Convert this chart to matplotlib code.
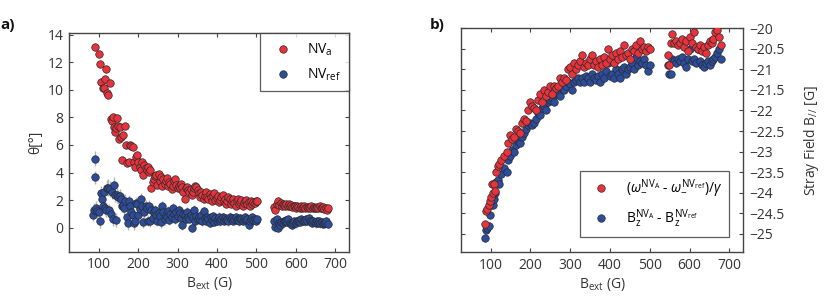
import matplotlib
matplotlib.use('Agg')
import matplotlib.pyplot as plt

plt.rcParams['font.family'] = ['Open Sans', 'DejaVu Sans']
plt.rcParams['mathtext.fontset'] = 'custom'
plt.rcParams['mathtext.rm'] = 'Open Sans'
plt.rcParams['mathtext.it'] = 'Open Sans:italic'
plt.rcParams['mathtext.sf'] = 'Open Sans'

# ---------------- data : panel a ----------------
bext_a = [92, 100, 103, 106, 110, 113, 116, 119, 122, 125, 128, 131, 133, 136, 139, 141, 144, 147, 149, 152,
          155, 158, 160, 162, 166, 169, 173, 176, 179, 183, 186, 189, 192, 195, 198, 201, 204, 207, 210, 213,
          216, 219, 222, 225, 228, 231, 234, 237, 240, 243, 246, 249, 252, 255, 258, 261, 264, 267, 270, 273,
          276, 279, 282, 285, 288, 291, 294, 297, 300, 303, 306, 309, 312, 315, 318, 321, 324, 327, 330, 333,
          336, 339, 342, 345, 348, 351, 354, 357, 360, 363, 366, 369, 372, 375, 378, 381, 384, 387, 390, 393,
          396, 399, 402, 405, 408, 411, 414, 417, 420, 423, 426, 429, 432, 435, 438, 441, 444, 447, 450, 453,
          456, 459, 462, 465, 468, 471, 474, 477, 480, 483, 486, 489, 492, 495, 498, 501,
          545, 548, 552, 555, 558, 561, 564, 567, 570, 573, 576, 579, 582, 585, 588, 591, 594, 597, 600, 603,
          606, 609, 612, 615, 618, 621, 624, 627, 630, 633, 636, 639, 642, 645, 648, 651, 654, 657, 660, 663,
          666, 669, 672, 675, 678, 680]
theta_a = [13.1, 12.6, 11.9, 10.6, 10.15, 10.15, 10.8, 11.5, 9.75, 9.65, 10.5, 7.9, 7.75, 8.05, 7.3, 6.95, 7.25, 7.95, 7.4, 6.4,
           7.3, 6.6, 4.9, 6.75, 7.35, 6.0, 4.7, 4.8, 6.0, 5.95, 5.85, 4.75, 4.4, 5.15, 5.25, 4.8, 4.4, 4.2, 4.75, 3.85,
           4.55, 4.35, 4.15, 4.4, 4.05, 4.2, 2.85, 3.3, 3.55, 3.75, 3.85, 3.1, 3.9, 3.4, 3.65, 3.05, 3.5, 3.2, 3.35, 3.6,
           3.0, 3.3, 3.2, 2.8, 3.05, 3.35, 3.5, 3.1, 2.85, 3.0, 2.85, 3.2, 2.95, 2.6, 2.05, 2.85, 2.95, 2.7, 2.55, 2.8,
           2.4, 2.6, 2.85, 3.05, 2.95, 2.7, 2.5, 2.2, 2.6, 2.4, 2.05, 2.3, 2.55, 2.25, 2.1, 2.45, 2.2, 1.95, 2.3, 2.5,
           2.0, 2.15, 2.3, 1.85, 2.0, 2.2, 2.35, 1.9, 2.1, 1.75, 1.95, 2.2, 2.05, 1.7, 1.9, 2.1, 1.8, 1.55, 1.95, 2.1,
           1.75, 1.85, 2.0, 1.6, 1.8, 1.95, 2.0, 1.7, 1.85, 1.6, 1.9, 1.75, 1.85, 1.8, 1.95, 1.9,
           1.5, 1.3, 1.75, 1.95, 1.65, 1.8, 1.6, 1.7, 1.65, 1.55, 1.7, 1.6, 1.75, 1.55, 1.65, 1.5, 1.6, 1.55, 1.45, 1.6,
           1.5, 1.45, 1.55, 1.4, 1.5, 1.6, 1.45, 1.5, 1.4, 1.5, 1.45, 1.55, 1.4, 1.5, 1.45, 1.4, 1.5, 1.45, 1.55, 1.4,
           1.45, 1.5, 1.35, 1.45, 1.25, 1.4]

bext_ref = [85, 88, 90, 92, 94, 97, 100, 103, 106, 108, 110, 113, 116, 119, 122, 125, 127, 130, 132, 135,
            137, 140, 142, 145, 147, 150, 153, 156, 159, 162, 165, 168, 171, 174, 177, 180, 183, 186, 189, 192,
            195, 198, 201, 204, 207, 210, 213, 216, 219, 222, 225, 228, 231, 234, 237, 240, 243, 246, 249, 252,
            255, 258, 261, 264, 267, 270, 273, 276, 279, 282, 285, 288, 291, 294, 297, 300, 303, 306, 309, 312,
            315, 318, 321, 324, 327, 330, 333, 336, 339, 342, 345, 348, 351, 354, 357, 360, 363, 366, 369, 372,
            375, 378, 381, 384, 387, 390, 393, 396, 399, 402, 405, 408, 411, 414, 417, 420, 423, 426, 429, 432,
            435, 438, 441, 444, 447, 450, 453, 456, 459, 462, 465, 468, 471, 474, 477, 480, 483, 486, 489, 492,
            495, 498, 501,
            545, 548, 551, 554, 557, 560, 563, 566, 569, 572, 575, 578, 581, 584, 587, 590, 593, 596, 599, 602,
            605, 608, 611, 614, 617, 620, 623, 626, 629, 632, 635, 638, 641, 644, 647, 650, 653, 656, 659, 662,
            665, 668, 671, 674, 677, 680]
theta_ref = [0.95, 1.3, 3.65, 5.0, 1.4, 1.2, 1.1, 0.5, 2.5, 2.05, 1.55, 2.55, 1.4, 1.3, 2.9, 2.9, 1.25, 2.8, 1.0, 2.6,
             0.6, 3.1, 2.4, 0.55, 2.35, 2.25, 2.3, 2.1, 1.6, 1.65, 1.4, 1.95, 0.8, 0.3, 1.9, 1.55, 1.1, 0.95, 0.3, 0.5,
             1.8, 1.7, 0.9, 1.35, 2.05, 1.55, 0.4, 1.1, 1.55, 1.45, 0.5, 1.6, 0.45, 1.3, 0.7, 1.15, 1.25, 0.9, 0.5, 1.05,
             0.85, 0.4, 1.55, 1.1, 0.6, 0.95, 0.75, 1.2, 0.55, 1.0, 0.8, 1.45, 1.0, 0.6, 1.1, 0.85, 1.3, 1.05, 0.7, 0.2,
             1.0, 0.95, 0.6, 1.15, 0.8, 0.65, 0.9, 0.0, 0.75, 1.3, 0.5, 0.85, 0.6, 0.75, 0.55, 0.9, 0.45, 1.2, 0.7, 0.5,
             0.8, 0.6, 0.35, 0.75, 0.55, 0.85, 0.4, 0.7, 0.5, 0.65, 0.8, 0.45, 0.6, 0.75, 0.5, 0.7, 0.55, 0.65, 0.45, 0.8,
             0.6, 0.7, 0.5, 0.6, 0.75, 0.55, 0.65, 0.45, 0.7, 0.6, 0.5, 0.65, 0.75, 0.55, 0.6, 0.2, 0.5, 0.65, 0.75, 0.55,
             0.6, 0.5, 0.6,
             0.5, 0.05, 0.6, 0.0, 0.35, 0.2, 0.4, 0.3, 0.5, 0.45, 0.55, 0.4, 0.6, 0.3, 0.25, 0.2, 0.35, 0.45, 0.3, 0.5,
             0.45, 0.55, 0.4, 0.6, 0.5, 0.55, 0.45, 0.6, 0.5, 0.7, 0.45, 0.5, 0.35, 0.5, 0.4, 0.3, 0.45, 0.35, 0.5, 0.3,
             0.4, 0.25, 0.35, 0.3, 0.45, 0.25]
theta_ref_err = [0.5, 0.5, 0.45, 0.55, 0.5, 0.5, 0.5, 0.5, 0.55, 0.5, 0.5, 0.55, 0.5, 0.5, 0.55, 0.6, 0.5, 0.6, 0.5, 0.55,
                 0.5, 0.6, 0.55, 0.5, 0.55, 0.5, 0.5, 0.5, 0.5, 0.5, 0.45, 0.5, 0.45, 0.45, 0.5, 0.45, 0.45, 0.45, 0.45, 0.45,
                 0.45, 0.45, 0.45, 0.45, 0.45, 0.45, 0.4, 0.4, 0.45, 0.4, 0.4, 0.4, 0.4, 0.4, 0.4, 0.4, 0.4, 0.4, 0.4, 0.4,
                 0.4, 0.4, 0.4, 0.4, 0.4, 0.4, 0.35, 0.35, 0.35, 0.35, 0.35, 0.35, 0.35, 0.35, 0.35, 0.35, 0.35, 0.35, 0.35, 0.35,
                 0.35, 0.35, 0.35, 0.35, 0.35, 0.35, 0.35, 0.35, 0.35, 0.35, 0.35, 0.35, 0.3, 0.3, 0.3, 0.3, 0.3, 0.3, 0.3, 0.3,
                 0.3, 0.3, 0.3, 0.3, 0.3, 0.3, 0.3, 0.3, 0.3, 0.3, 0.3, 0.3, 0.3, 0.3, 0.3, 0.3, 0.3, 0.3, 0.3, 0.3,
                 0.3, 0.3, 0.3, 0.3, 0.3, 0.3, 0.3, 0.3, 0.3, 0.3, 0.3, 0.3, 0.3, 0.3, 0.3, 0.3, 0.3, 0.3, 0.3, 0.3,
                 0.3, 0.3, 0.3,
                 0.35, 0.35, 0.35, 0.35, 0.3, 0.3, 0.3, 0.3, 0.3, 0.3, 0.3, 0.3, 0.3, 0.3, 0.3, 0.3, 0.3, 0.3, 0.3, 0.3,
                 0.3, 0.3, 0.3, 0.3, 0.3, 0.3, 0.3, 0.3, 0.3, 0.3, 0.3, 0.3, 0.3, 0.3, 0.3, 0.3, 0.3, 0.3, 0.3, 0.3,
                 0.3, 0.3, 0.3, 0.3, 0.3, 0.3]

# ---------------- data : panel b ----------------
bext_b = [85, 88, 92, 95, 98, 100, 103, 105, 108, 110, 114, 118, 122, 127, 133, 140, 145, 150, 155, 160,
          165, 170, 175, 180, 185, 190, 195, 200, 205, 210, 215, 220, 225, 230, 235, 240, 245, 250, 255, 260,
          265, 270, 275, 280, 285, 290, 295, 300, 305, 310, 315, 320, 325, 330, 335, 340, 345, 350, 355, 360,
          365, 370, 375, 380, 385, 390, 395, 400, 405, 410, 415, 420, 425, 430, 435, 440, 445, 450, 455, 460,
          465, 470, 475, 480, 485, 490, 495, 500,
          545, 548, 552, 556, 560, 565, 570, 575, 580, 585, 590, 595, 600, 605, 610, 615, 620, 625, 630, 635,
          640, 645, 650, 655, 660, 665, 670, 675, 680]
stray_omega = [-24.75, -24.45, -24.4, -24.3, -24.2, -24.1, -23.8, -24.0, -23.8, -23.95, -23.5, -23.35, -23.3, -23.2, -23.1, -23.0, -22.8, -22.6, -22.7, -22.65,
               -22.45, -22.5, -22.55, -22.3, -22.2, -22.25, -22.0, -21.8, -21.9, -21.95, -22.0, -21.75, -21.6, -21.8, -21.5, -21.65, -21.55, -21.4, -21.6, -21.4,
               -21.45, -21.4, -21.2, -21.3, -21.2, -21.25, -21.0, -20.95, -21.1, -20.85, -21.0, -20.9, -20.8, -20.65, -20.95, -20.85, -20.9, -20.75, -20.65, -20.9,
               -20.8, -20.95, -20.75, -20.9, -20.7, -20.85, -20.5, -20.75, -20.65, -20.85, -20.6, -20.75, -20.55, -20.7, -20.4, -20.65, -20.6, -20.75, -20.5, -20.55,
               -20.4, -20.6, -20.3, -20.5, -20.45, -20.55, -20.45, -20.5,
               -20.65, -20.9, -20.35, -20.15, -20.35, -20.3, -20.4, -20.35, -20.25, -20.45, -20.3, -20.55, -20.2, -20.35, -20.1, -20.45, -20.5, -20.4, -20.55, -20.45,
               -20.6, -20.4, -20.3, -20.35, -20.25, -20.1, -20.05, -20.2, -20.4]
stray_bz = [-25.1, -24.9, -24.85, -24.8, -24.55, -24.3, -24.2, -24.3, -24.15, -24.0, -23.75, -23.7, -23.8, -23.55, -23.4, -23.5, -23.2, -23.1, -22.95, -23.0,
            -22.85, -22.75, -22.8, -22.65, -22.55, -22.45, -22.35, -22.3, -22.35, -22.3, -22.2, -22.05, -22.1, -21.95, -21.9, -22.0, -21.8, -21.75, -21.7, -21.8,
            -21.6, -21.55, -21.65, -21.45, -21.5, -21.4, -21.3, -21.35, -21.5, -21.3, -21.25, -21.2, -21.3, -21.2, -21.3, -21.15, -21.2, -21.3, -21.1, -21.2,
            -21.25, -21.15, -21.3, -21.1, -21.2, -21.05, -20.85, -21.15, -21.1, -21.2, -21.0, -21.1, -21.2, -21.0, -20.95, -21.1, -21.0, -20.95, -20.85, -21.0,
            -20.7, -20.9, -20.8, -20.85, -20.75, -20.9, -21.05, -20.9,
            -20.9, -21.1, -21.1, -20.75, -20.8, -20.85, -20.75, -20.8, -20.7, -20.85, -20.95, -20.75, -20.5, -20.8, -20.75, -20.85, -20.5, -20.8, -20.9, -20.95,
            -20.85, -20.8, -20.9, -20.8, -20.75, -20.7, -20.6, -20.5, -20.75]

xticks = [100, 200, 300, 400, 500, 600, 700]
yticks_a = [0, 2, 4, 6, 8, 10, 12, 14]
yticks_b = [-25, -24.5, -24, -23.5, -23, -22.5, -22, -21.5, -21, -20.5, -20]
ytick_labels_b = ['\u221225', '\u221224.5', '\u221224', '\u221223.5', '\u221223', '\u221222.5', '\u221222',
                  '\u221221.5', '\u221221', '\u221220.5', '\u221220']

RED = '#e8323c'
BLUE = '#2c4c9c'
EDGE = '#2a2a2a'
GREY = '#b4b4b4'
TXT = '#333333'
FS = 10

fig = plt.figure(figsize=(8.3, 3.02), dpi=100)
axa = fig.add_axes([0.0831, 0.1666, 0.3377, 0.7225])
axb = fig.add_axes([0.5551, 0.1646, 0.3405, 0.7417])

mk = dict(marker='o', ls='none', ms=5.4, mec=EDGE, mew=0.5)

# panel a
axa.errorbar(bext_ref, theta_ref, yerr=theta_ref_err, fmt='none', ecolor=GREY, elinewidth=1.0, zorder=1)
axa.plot(bext_a, theta_a, mfc=RED, zorder=3, label=r'NV$_{\mathrm{a}}$', **mk)
axa.plot(bext_ref, theta_ref, mfc=BLUE, zorder=2, label=r'NV$_{\mathrm{ref}}$', **mk)
axa.set_xlim(25, 735)
axa.set_ylim(-1.75, 14.1)
axa.set_xticks(xticks)
axa.set_yticks(yticks_a)
axa.set_xlabel(r'B$_{\mathrm{ext}}$ (G)', fontsize=FS, color=TXT, labelpad=2)
axa.set_ylabel('\u03b8[\u00b0]', fontsize=FS, color=TXT, labelpad=3)
leg = axa.legend(loc='upper right', borderaxespad=0.0, fontsize=FS, frameon=True, fancybox=False,
                 handletextpad=0.6, handlelength=2.2, borderpad=0.6, labelspacing=0.6)
leg.get_frame().set_edgecolor('#333333')
leg.get_frame().set_linewidth(0.9)

# panel b
axb.plot(bext_b, stray_omega, mfc=RED, zorder=3,
         label=r'($\omega_{-}^{\mathrm{NV_A}}$ - $\omega_{-}^{\mathrm{NV_{ref}}}$)/$\gamma$', **mk)
axb.plot(bext_b, stray_bz, mfc=BLUE, zorder=2,
         label=r'B$_{\mathrm{z}}^{\mathrm{NV_A}}$ - B$_{\mathrm{z}}^{\mathrm{NV_{ref}}}$', **mk)
axb.set_xlim(25, 735)
axb.set_ylim(-25.45, -20)
axb.set_xticks(xticks)
axb.set_yticks(yticks_b)
axb.set_yticklabels(ytick_labels_b)
axb.yaxis.tick_right()
axb.yaxis.set_label_position('right')
axb.set_xlabel(r'B$_{\mathrm{ext}}$ (G)', fontsize=FS, color=TXT, labelpad=2)
axb.set_ylabel(r'Stray Field B$_{//}$ [G]', fontsize=FS, color=TXT, labelpad=13)
legb = axb.legend(loc='lower right', bbox_to_anchor=(0.95, 0.07), borderaxespad=0.0, fontsize=FS,
                  frameon=True, fancybox=False, handletextpad=0.8, handlelength=2.0, borderpad=0.5,
                  labelspacing=0.5)
legb.get_frame().set_edgecolor('#333333')
legb.get_frame().set_linewidth(0.9)

for ax in (axa, axb):
    for s in ax.spines.values():
        s.set_color('#444444')
        s.set_linewidth(1.0)
    ax.tick_params(direction='in', length=3, width=0.8, color='#444444', labelsize=FS,
                   labelcolor=TXT, top=True, bottom=True, left=True, right=True, pad=4)

fig.text(0.0, 0.905, 'a)', fontsize=11, fontweight='bold', color='#111111')
fig.text(0.518, 0.905, 'b)', fontsize=11, fontweight='bold', color='#111111')

fig.savefig('out.png', dpi=100)
